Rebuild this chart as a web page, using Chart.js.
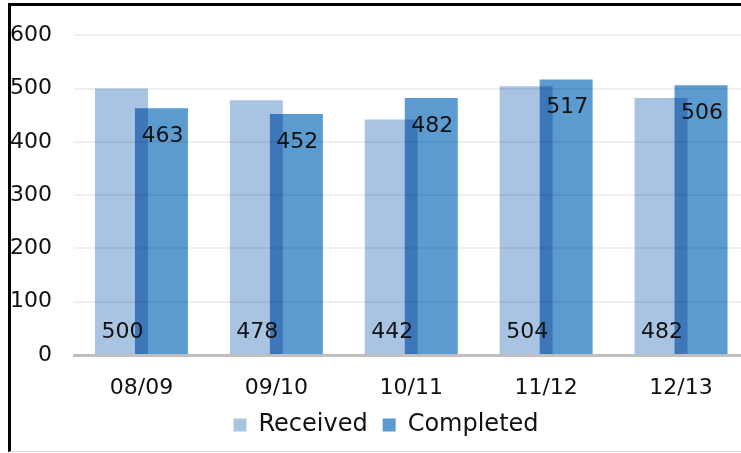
<!DOCTYPE html>
<html>
<head>
<meta charset="utf-8">
<script src="https://cdn.jsdelivr.net/npm/chart.js@4"></script>
<style>
  html, body { margin: 0; padding: 0; background: #fff; overflow: hidden; }
  #wrap { position: relative; width: 741px; height: 453px; overflow: hidden; }
  #box { position: absolute; left: 0; top: 0; width: 772px; height: 453px; }
  #frame {
    position: absolute; left: 8px; top: 3px; width: 800px; height: 445px;
    border-left: 3px solid #000; border-top: 3px solid #000;
    border-bottom: 1px solid #dcdcdc; pointer-events: none;
  }
</style>
</head>
<body>
<div id="wrap">
  <div id="box"><canvas id="c"></canvas></div>
  <div id="frame"></div>
</div>
<script>
const YEARS = ["08/09", "09/10", "10/11", "11/12", "12/13"];
const RECEIVED = [500, 478, 442, 504, 482];
const COMPLETED = [463, 452, 482, 517, 506];
const Y_TICKS = [0, 100, 200, 300, 400, 500, 600];

const FONT = "'DejaVu Sans', sans-serif";
Chart.defaults.font.family = FONT;
Chart.defaults.color = "#111";

// overlapping bars darken where they cross
const blendBars = {
  id: "blendBars",
  beforeDatasetDraw(chart) {
    chart.ctx.save();
    chart.ctx.globalCompositeOperation = "multiply";
  },
  afterDatasetDraw(chart) {
    chart.ctx.restore();
  },
};

// value labels: Received near the base, Completed just under the top
const valueLabels = {
  id: "valueLabels",
  afterDatasetsDraw(chart) {
    const ctx = chart.ctx;
    const base = chart.scales.y.getPixelForValue(0);
    ctx.save();
    ctx.font = "22px " + FONT;
    ctx.fillStyle = "#111";
    ctx.textAlign = "center";
    ctx.textBaseline = "middle";
    chart.getDatasetMeta(0).data.forEach((bar, i) => {
      ctx.fillText(String(RECEIVED[i]), bar.x + 1, base - 23);
    });
    chart.getDatasetMeta(1).data.forEach((bar, i) => {
      ctx.fillText(String(COMPLETED[i]), bar.x + 1, bar.y + 28);
    });
    ctx.restore();
  },
};

new Chart(document.getElementById("c"), {
  type: "bar",
  data: {
    labels: YEARS,
    datasets: [
      { label: "Received", data: RECEIVED, backgroundColor: "#a9c4e3", borderWidth: 0 },
      { label: "Completed", data: COMPLETED, backgroundColor: "#5b9bd0", borderWidth: 0 },
    ],
  },
  options: {
    responsive: true,
    maintainAspectRatio: false,
    animation: false,
    categoryPercentage: 0.593,
    barPercentage: 1.325,
    layout: { padding: { top: 35, right: 0, left: 0, bottom: 6 } },
    plugins: {
      legend: {
        position: "bottom",
        labels: { boxWidth: 13, boxHeight: 13, padding: 15, font: { size: 24 }, color: "#111" },
      },
      tooltip: { enabled: false },
    },
    scales: {
      x: {
        afterFit(scale) { scale.height = 43; },
        grid: { display: false, drawTicks: false },
        border: { display: true, color: "#bfbfbf", width: 3 },
        ticks: { padding: 20, font: { size: 22 }, color: "#111" },
      },
      y: {
        min: 0,
        max: 600,
        afterFit(scale) { scale.width = 74; },
        afterBuildTicks(scale) { scale.ticks = Y_TICKS.map((v) => ({ value: v })); },
        border: { display: false },
        grid: {
          drawTicks: false,
          lineWidth: 2,
          color: (c) => (c.tick && c.tick.value === 0 ? "rgba(0,0,0,0)" : "#efefef"),
        },
        ticks: { padding: 22, font: { size: 22 }, color: "#111" },
      },
      // empty spacer on the right so the plot stops short of the legend's centre line
      spacer: {
        type: "linear",
        position: "right",
        afterFit(scale) { scale.width = 23.5; },
        grid: { display: false, drawTicks: false },
        border: { display: false },
        ticks: { display: false },
      },
    },
  },
  plugins: [blendBars, valueLabels],
});
</script>
</body>
</html>
